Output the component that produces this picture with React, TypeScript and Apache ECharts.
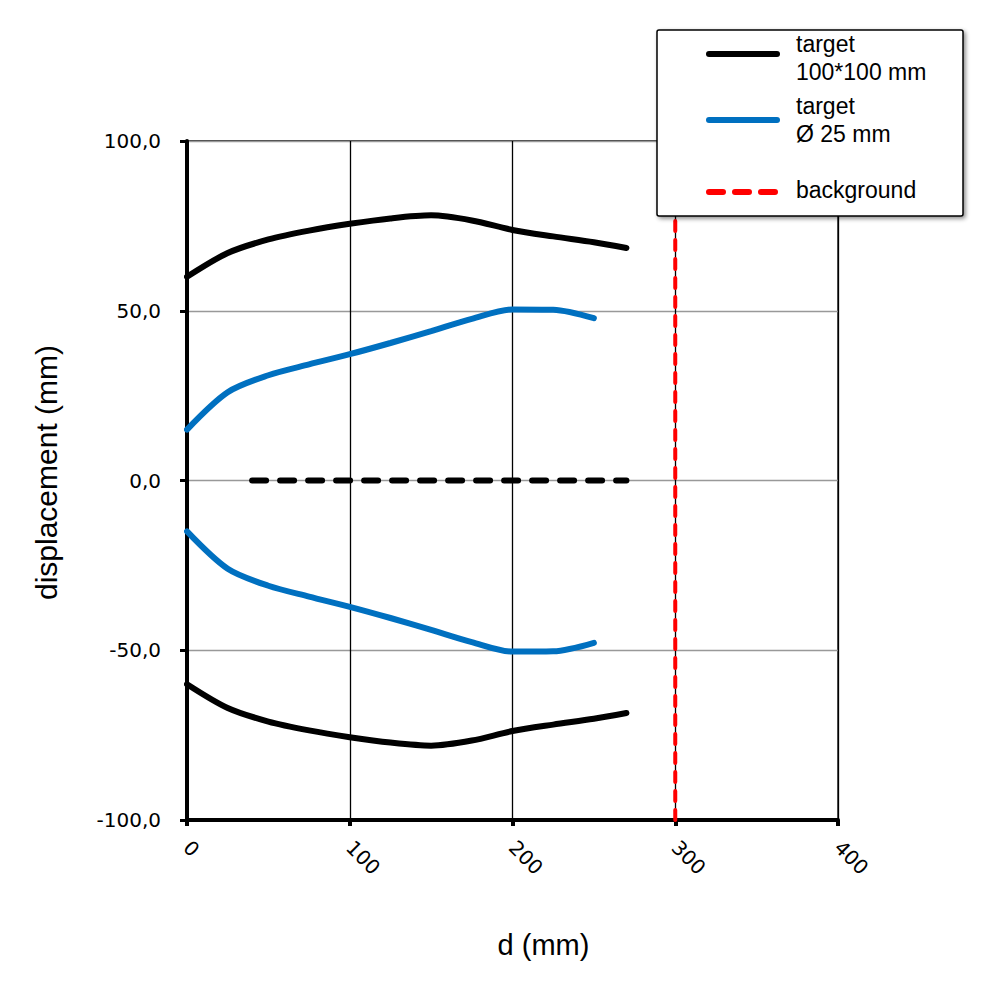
import React, { useEffect, useRef } from "react";
import * as echarts from "echarts";

const blackUpper: [number, number][] = [
  [0, 60], [25, 67], [50, 71], [75, 73.6], [100, 75.6], [125, 77.2], [150, 78.1],
  [175, 76.6], [200, 73.8], [225, 71.9], [250, 70.2], [270, 68.5],
];
const blackLower: [number, number][] = [
  [0, -60], [25, -67], [50, -71], [75, -73.6], [100, -75.6], [125, -77.2], [150, -78.1],
  [175, -76.6], [200, -73.8], [225, -71.9], [250, -70.2], [270, -68.5],
];
const blueUpper: [number, number][] = [
  [0, 15], [25, 26], [50, 31], [75, 34.2], [100, 37.2], [125, 40.5], [150, 44],
  [175, 47.6], [200, 50.4], [225, 50.3], [250, 47.8],
];
const blueLower: [number, number][] = [
  [0, -15], [25, -26], [50, -31], [75, -34.2], [100, -37.2], [125, -40.5], [150, -44],
  [175, -47.6], [200, -50.4], [225, -50.3], [250, -47.8],
];
const centerLine: [number, number][] = [[40, 0], [270, 0]];
const backgroundLine: [number, number][] = [[300, -100], [300, 100]];

const legendLabels = {
  black: ["target", "100*100 mm"],
  blue: ["target", "Ø 25 mm"],
  red: ["background"],
};

const BLACK = "#000000";
const BLUE = "#0070c0";
const RED = "#ff0000";

export default function App() {
  const ref = useRef<HTMLDivElement>(null);
  useEffect(() => {
    document.body.style.margin = "0";
    const chart = echarts.init(ref.current!, undefined, { renderer: "svg" });
    const tickFont = { fontFamily: "DejaVu Sans", fontSize: 20, color: "#000" };
    const titleFont = { fontFamily: "Liberation Sans", fontSize: 29, color: "#000" };
    const legendFont = { fontFamily: "Liberation Sans", fontSize: 23, fill: "#000" };
    const curve = (data: [number, number][], color: string) => ({
      type: "line",
      data,
      smooth: 0.3,
      showSymbol: false,
      symbol: "none",
      lineStyle: { color, width: 6, cap: "round" },
      z: 5,
    });
    chart.setOption({
      animation: false,
      backgroundColor: "#fff",
      grid: {
        left: 187, right: 162, top: 141, bottom: 180,
        show: true, borderColor: "#000", borderWidth: 1.3, backgroundColor: "transparent",
      },
      xAxis: {
        type: "value", min: 0, max: 400, interval: 100,
        name: "d (mm)", nameLocation: "middle", nameGap: 110,
        nameTextStyle: { ...titleFont, padding: [0, 0, 0, 62] },
        axisLine: { show: true, onZero: false, lineStyle: { color: "#000", width: 4 } },
        axisTick: { show: true, length: 6, lineStyle: { color: "#000", width: 4 } },
        axisLabel: { ...tickFont, rotate: -45, margin: 24 },
        splitLine: { show: true, lineStyle: { color: "#000", width: 1.3 } },
      },
      yAxis: {
        type: "value", min: -100, max: 100, interval: 50,
        name: "displacement (mm)", nameLocation: "middle", nameGap: 126, nameRotate: 90,
        nameTextStyle: { ...titleFont, fontSize: 30, padding: [0, 0, 0, 16] },
        axisLine: { show: true, onZero: false, lineStyle: { color: "#000", width: 4 } },
        axisTick: { show: true, length: 7, lineStyle: { color: "#000", width: 3 } },
        axisLabel: {
          ...tickFont, margin: 26,
          formatter: (v: number) => v.toFixed(1).replace(".", ","),
        },
        splitLine: { show: true, lineStyle: { color: "#999", width: 1.3 } },
      },
      series: [
        curve(blackUpper, BLACK),
        curve(blackLower, BLACK),
        curve(blueUpper, BLUE),
        curve(blueLower, BLUE),
        {
          type: "line", data: centerLine, showSymbol: false, symbol: "none",
          lineStyle: { color: BLACK, width: 6, type: [14, 14], cap: "round" }, z: 5,
        },
        {
          type: "line", data: backgroundLine, showSymbol: false, symbol: "none",
          lineStyle: { color: RED, width: 4, type: [10, 9], cap: "round" }, z: 6,
        },
      ],
      graphic: [
        {
          type: "rect", z: 100,
          shape: { x: 657, y: 30, width: 306, height: 186, r: 2 },
          style: {
            fill: "#fff", stroke: "#000", lineWidth: 1.5,
            shadowBlur: 4, shadowOffsetX: 2, shadowOffsetY: 2, shadowColor: "rgba(0,0,0,0.45)",
          },
        },
        {
          type: "line", z: 101,
          shape: { x1: 709, y1: 54, x2: 777, y2: 54 },
          style: { stroke: BLACK, lineWidth: 6, lineCap: "round" },
        },
        {
          type: "line", z: 101,
          shape: { x1: 709, y1: 120, x2: 777, y2: 120 },
          style: { stroke: BLUE, lineWidth: 6, lineCap: "round" },
        },
        {
          type: "line", z: 101,
          shape: { x1: 709, y1: 192, x2: 777, y2: 192 },
          style: { stroke: RED, lineWidth: 6, lineCap: "round", lineDash: [14, 12] },
        },
        {
          type: "text", z: 101, x: 796, y: 44,
          style: { ...legendFont, text: legendLabels.black[0], verticalAlign: "middle" },
        },
        {
          type: "text", z: 101, x: 796, y: 72,
          style: { ...legendFont, text: legendLabels.black[1], verticalAlign: "middle" },
        },
        {
          type: "text", z: 101, x: 796, y: 106,
          style: { ...legendFont, text: legendLabels.blue[0], verticalAlign: "middle" },
        },
        {
          type: "text", z: 101, x: 796, y: 134,
          style: { ...legendFont, text: legendLabels.blue[1], verticalAlign: "middle" },
        },
        {
          type: "text", z: 101, x: 796, y: 190,
          style: { ...legendFont, text: legendLabels.red[0], verticalAlign: "middle" },
        },
      ],
    });
    return () => chart.dispose();
  }, []);
  return <div ref={ref} style={{ position: "absolute", left: 0, top: 0, width: 1000, height: 1000 }} />;
}
